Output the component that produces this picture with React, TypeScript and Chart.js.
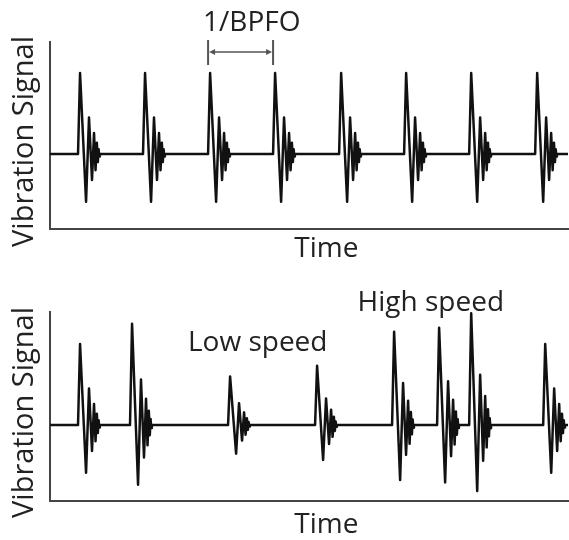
import React, { useEffect, useRef } from "react";
import { Chart, registerables } from "chart.js";

Chart.register(...registerables);

// Shape of one bearing-fault impulse: time offset (ms) and relative amplitude
const pulseOffsets = [0, 0.31, 1.23, 1.68, 2.14, 2.45, 2.68, 2.88, 3.03, 3.15, 3.25, 3.34];
const pulseShape = [0, 1.0, -0.59, 0.45, -0.32, 0.26, -0.2, 0.14, -0.1, 0.06, -0.03, 0];

// Top panel: constant speed, impulses every 1/BPFO
const constantStarts = [4.29, 14.24, 24.2, 34.15, 44.26, 54.21, 64.17, 74.27];
const constantGains = [1, 1, 1, 1, 1, 1, 1, 1];

// Bottom panel: varying speed
const variableStarts = [4.29, 12.25, 27.26, 40.58, 52.37, 59.26, 64.17, 75.5];
const variableGains = [1.0, 1.25, 0.6, 0.73, 1.15, 1.2, 1.38, 1.0];

const timeRange = [0, 79.3];
const signalRangeTop = [-0.926, 1.383];
const signalRangeBottom = [-0.938, 1.395];

const axisTitleY = "Vibration Signal";
const axisTitleX = "Time";
const periodLabel = "1/BPFO";
const lowSpeedLabel = "Low speed";
const highSpeedLabel = "High speed";

const FONT = '28px "Open Sans", sans-serif';
const FONT_Y = '29px "Open Sans", sans-serif';
const TEXT = "#222";

function buildSignal(starts: number[], gains: number[]) {
  const pts: { x: number; y: number }[] = [{ x: timeRange[0], y: 0 }];
  starts.forEach((s, i) => {
    pulseOffsets.forEach((o, j) => pts.push({ x: s + o, y: pulseShape[j] * gains[i] }));
  });
  pts.push({ x: timeRange[1], y: 0 });
  return pts;
}

function makeChart(
  canvas: HTMLCanvasElement,
  data: { x: number; y: number }[],
  yRange: number[],
  padBottom: number,
  timeOffset: number,
  annotate: (chart: any) => void
) {
  const plugin = {
    id: "annot",
    afterDraw(chart: any) {
      const ctx = chart.ctx;
      const ca = chart.chartArea;
      const xs = chart.scales.x;
      ctx.save();
      ctx.fillStyle = TEXT;
      // y title
      ctx.save();
      ctx.font = FONT_Y;
      ctx.translate(33, (ca.top + ca.bottom) / 2 + 6);
      ctx.rotate(-Math.PI / 2);
      ctx.textAlign = "center";
      ctx.textBaseline = "alphabetic";
      ctx.fillText(axisTitleY, 0, 0);
      ctx.restore();
      // x title
      ctx.font = FONT;
      ctx.textAlign = "center";
      ctx.textBaseline = "alphabetic";
      ctx.fillText(axisTitleX, xs.getPixelForValue(42.3), ca.bottom + timeOffset);
      ctx.restore();
      annotate(chart);
    },
  };
  const axis = (min: number, max: number) => ({
    type: "linear",
    min,
    max,
    ticks: { display: false },
    grid: { display: false, drawTicks: false, tickLength: 0 },
    border: { display: true, color: "#444", width: 2 },
  });
  return new Chart(canvas, {
    type: "line",
    data: {
      datasets: [
        {
          data,
          borderColor: "#111",
          borderWidth: 2.5,
          pointRadius: 0,
          tension: 0,
          fill: false,
          borderJoinStyle: "round",
        } as any,
      ],
    },
    options: {
      animation: false,
      responsive: false,
      devicePixelRatio: 1,
      parsing: false,
      layout: { padding: { left: 50, right: 1, top: 42, bottom: padBottom } },
      plugins: { legend: { display: false }, tooltip: { enabled: false } },
      scales: {
        x: axis(timeRange[0], timeRange[1]),
        y: axis(yRange[0], yRange[1]),
      },
    } as any,
    plugins: [plugin],
  });
}

export default function App() {
  const topRef = useRef<HTMLCanvasElement>(null);
  const botRef = useRef<HTMLCanvasElement>(null);

  useEffect(() => {
    const top = makeChart(
      topRef.current!,
      buildSignal(constantStarts, constantGains),
      signalRangeTop,
      41,
      28,
      (chart: any) => {
        const ctx = chart.ctx;
        const xs = chart.scales.x;
        const x1 = xs.getPixelForValue(constantStarts[2]);
        const x2 = xs.getPixelForValue(constantStarts[3]);
        ctx.save();
        ctx.strokeStyle = "#555";
        ctx.fillStyle = "#555";
        ctx.lineWidth = 2;
        ctx.beginPath();
        ctx.moveTo(x1, 40);
        ctx.lineTo(x1, 65);
        ctx.moveTo(x2, 40);
        ctx.lineTo(x2, 65);
        ctx.stroke();
        ctx.lineWidth = 1.5;
        ctx.beginPath();
        ctx.moveTo(x1 + 3, 52);
        ctx.lineTo(x2 - 3, 52);
        ctx.stroke();
        ctx.beginPath();
        ctx.moveTo(x1 + 1, 52);
        ctx.lineTo(x1 + 7, 49);
        ctx.lineTo(x1 + 7, 55);
        ctx.closePath();
        ctx.moveTo(x2 - 1, 52);
        ctx.lineTo(x2 - 7, 49);
        ctx.lineTo(x2 - 7, 55);
        ctx.closePath();
        ctx.fill();
        ctx.fillStyle = TEXT;
        ctx.font = FONT;
        ctx.textAlign = "left";
        ctx.textBaseline = "alphabetic";
        ctx.fillText(periodLabel, x1 - 5, 31);
        ctx.restore();
      }
    );
    const bot = makeChart(
      botRef.current!,
      buildSignal(variableStarts, variableGains),
      signalRangeBottom,
      39,
      32,
      (chart: any) => {
        const ctx = chart.ctx;
        const xs = chart.scales.x;
        const ys = chart.scales.y;
        ctx.save();
        ctx.fillStyle = TEXT;
        ctx.font = FONT;
        ctx.textAlign = "center";
        ctx.textBaseline = "alphabetic";
        ctx.fillText(lowSpeedLabel, xs.getPixelForValue(31.8), ys.getPixelForValue(0.91));
        ctx.fillText(highSpeedLabel, xs.getPixelForValue(58.3), ys.getPixelForValue(1.41));
        ctx.restore();
      }
    );
    return () => {
      top.destroy();
      bot.destroy();
    };
  }, []);

  return (
    <div style={{ position: "absolute", left: 0, top: 0, width: 569, height: 540, background: "#fff" }}>
      <canvas ref={topRef} width={569} height={270} style={{ display: "block", width: 569, height: 270 }} />
      <canvas ref={botRef} width={569} height={270} style={{ display: "block", width: 569, height: 270 }} />
    </div>
  );
}
